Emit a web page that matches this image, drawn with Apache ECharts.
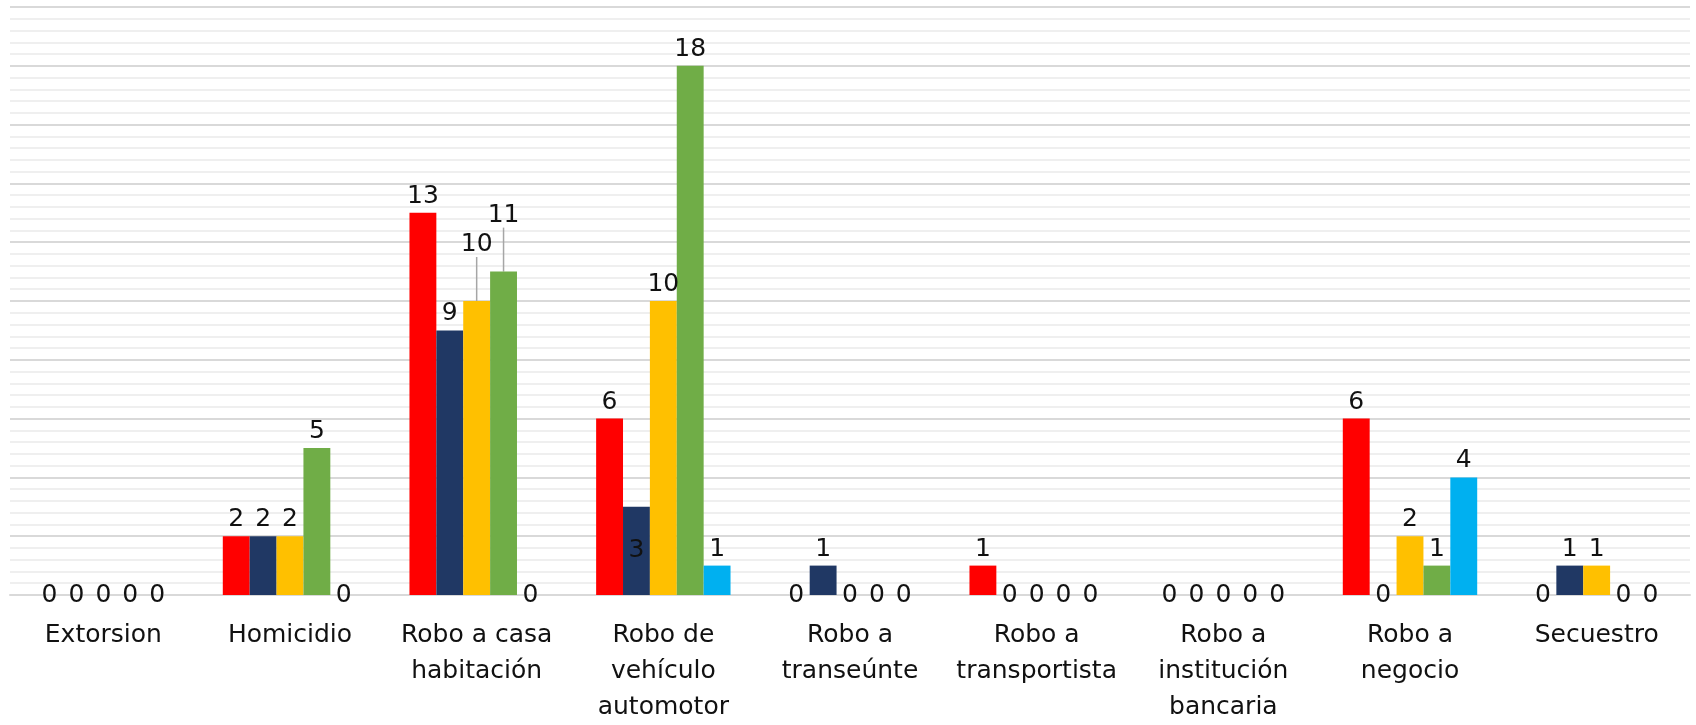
<!DOCTYPE html>
<html>
<head>
<meta charset="utf-8">
<script src="https://cdn.jsdelivr.net/npm/echarts@6/dist/echarts.min.js"></script>
<style>
  html, body { margin: 0; padding: 0; background: #fff; }
  #chart { width: 1696px; height: 725px; }
</style>
</head>
<body>
<div id="chart"></div>
<script>
const categories = [
  'Extorsion',
  'Homicidio',
  'Robo a casa\nhabitación',
  'Robo de\nvehículo\nautomotor',
  'Robo a\ntranseúnte',
  'Robo a\ntransportista',
  'Robo a\ninstitución\nbancaria',
  'Robo a\nnegocio',
  'Secuestro'
];

// five series, no legend in the original
const serie1 = [0, 2, 13, 6, 0, 1, 0, 6, 0];
const serie2 = [0, 2, 9, 3, 1, 0, 0, 0, 1];
const serie3 = [0, 2, 10, 10, 0, 0, 0, 2, 1];
const serie4 = [0, 5, 11, 18, 0, 0, 0, 1, 0];
const serie5 = [0, 0, 0, 1, 0, 0, 0, 4, 0];

const colors = ['#FF0000', '#203864', '#FFC000', '#70AD47', '#00B0F0'];
const font = 'DejaVu Sans';

// labels that the original moved by hand: [series, category]
const liftedLabels = [[2, 2], [3, 2]];   // raised with a leader line
const insideLabels = [[1, 3]];           // drawn inside the bar

const has = (list, s, c) => list.some(p => p[0] === s && p[1] === c);

const chart = echarts.init(document.getElementById('chart'));

function makeSeries(values, idx) {
  return {
    name: 'Serie ' + (idx + 1),
    type: 'bar',
    barGap: '0%',
    barCategoryGap: '28%',
    itemStyle: { color: colors[idx] },
    label: {
      show: true,
      position: 'top',
      distance: 4,
      color: '#111',
      fontSize: 25,
      fontFamily: font
    },
    labelLine: { show: false },
    data: values.map((v, i) => {
      if (v === 0) {
        // zero values: label sits on the axis line like in the original
        return { value: v, label: { position: 'inside', offset: [0, -4] } };
      }
      if (has(liftedLabels, idx, i)) {
        return { value: v, labelLine: { show: true, lineStyle: { color: '#a6a6a6', width: 1.5 } } };
      }
      if (has(insideLabels, idx, i)) {
        return { value: v, label: { position: 'inside' } };
      }
      return v;
    })
  };
}

chart.setOption({
  animation: false,
  grid: { left: 10, right: 6, top: 7, bottom: 126 },
  xAxis: {
    type: 'category',
    data: categories,
    axisLine: { show: true, lineStyle: { color: '#d9d9d9', width: 2 } },
    axisTick: { show: false },
    axisLabel: {
      interval: 0,
      margin: 22,
      color: '#111',
      fontSize: 25,
      lineHeight: 36,
      fontFamily: font
    }
  },
  yAxis: {
    type: 'value',
    min: 0,
    max: 20,
    interval: 2,
    axisLabel: { show: false },
    axisLine: { show: false },
    axisTick: { show: false },
    splitLine: { lineStyle: { color: '#d9d9d9', width: 2 } },
    minorTick: { show: false, splitNumber: 5 },
    minorSplitLine: { show: true, lineStyle: { color: '#efefef', width: 2 } }
  },
  series: [serie1, serie2, serie3, serie4, serie5].map(makeSeries),
  labelLayout: function (p) {
    if (has(liftedLabels, p.seriesIndex, p.dataIndex)) {
      return { dy: -40 };
    }
  }
});
</script>
</body>
</html>
